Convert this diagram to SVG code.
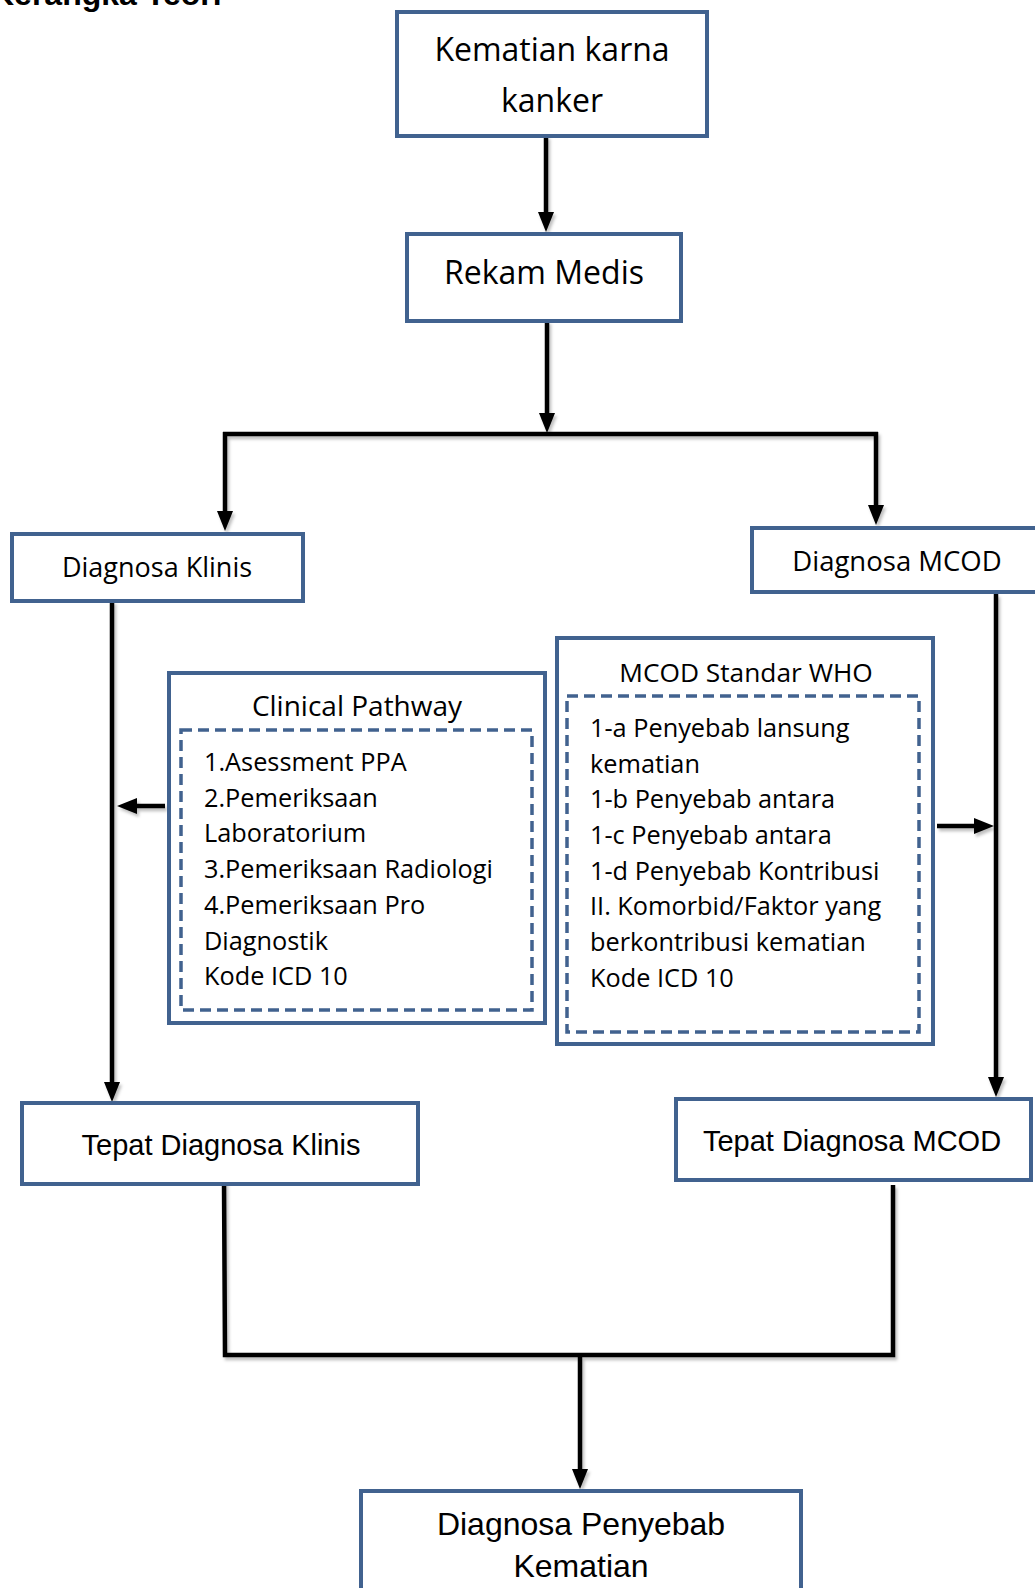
<svg xmlns="http://www.w3.org/2000/svg" width="1035" height="1588" viewBox="0 0 1035 1588">
<defs>
<style>
.box{fill:#fff;stroke:#41628F;stroke-width:4}
.dash{fill:none;stroke:#41628F;stroke-width:3.5;stroke-dasharray:11 6}
.con{fill:none;stroke:#000;stroke-width:4.5}
.c{font-family:"Open Sans","Noto Sans",sans-serif;fill:#000}
.a{font-family:"Liberation Sans",Arial,sans-serif;fill:#000}
.mid{text-anchor:middle}
</style>
<marker id="ah" viewBox="0 0 20 16" refX="6" refY="8" markerWidth="20" markerHeight="16" markerUnits="userSpaceOnUse" orient="auto">
<path d="M0,0 L20,8 L0,16 z" fill="#000"/>
</marker>
<filter id="sh" x="-10%" y="-10%" width="120%" height="120%">
<feDropShadow dx="2" dy="3" stdDeviation="1.5" flood-color="#000" flood-opacity="0.25"/>
</filter>
</defs>
<rect width="1035" height="1588" fill="#fff"/>
<text class="a" x="-9" y="5" font-size="32" font-weight="bold">Kerangka Teori</text>

<g id="connectors" filter="url(#sh)">
<path class="con" d="M546,136 V218" marker-end="url(#ah)"/>
<path class="con" d="M547,321 V419" marker-end="url(#ah)"/>
<path class="con" d="M223,434 H878"/>
<path class="con" d="M225,432 V517" marker-end="url(#ah)"/>
<path class="con" d="M876,432 V511" marker-end="url(#ah)"/>
<path class="con" d="M112,601 V1088" marker-end="url(#ah)"/>
<path class="con" d="M996,594 V1083" marker-end="url(#ah)"/>
<path class="con" d="M165,806 H131" marker-end="url(#ah)"/>
<path class="con" d="M937,826 H980" marker-end="url(#ah)"/>
<path class="con" d="M224,1180 L225,1355 H893 V1185" stroke-linejoin="miter"/>
<path class="con" d="M580,1355 V1475" marker-end="url(#ah)"/>
</g>

<g id="n-kematian">
<rect class="box" x="397" y="12" width="310" height="124"/>
<text class="c mid" x="552" y="61" font-size="32">Kematian karna</text>
<text class="c mid" x="552" y="112" font-size="32">kanker</text>
</g>

<g id="n-rekam">
<rect class="box" x="407" y="234" width="274" height="87"/>
<text class="c mid" x="544" y="284" font-size="32">Rekam Medis</text>
</g>

<g id="n-diagklinis">
<rect class="box" x="12" y="534" width="291" height="67"/>
<text class="c mid" x="157" y="577" font-size="27">Diagnosa Klinis</text>
</g>

<g id="n-diagmcod">
<rect class="box" x="752" y="528" width="300" height="64"/>
<text class="c mid" x="897" y="571" font-size="27.5">Diagnosa MCOD</text>
</g>

<g id="n-clinical">
<rect class="box" x="169" y="673" width="376" height="350"/>
<rect class="dash" x="181" y="730" width="351" height="280"/>
<text class="c mid" x="357" y="716" font-size="28">Clinical Pathway</text>
<text class="c" font-size="25.3">
<tspan x="204" y="771">1.Asessment PPA</tspan>
<tspan x="204" y="807">2.Pemeriksaan</tspan>
<tspan x="204" y="842">Laboratorium</tspan>
<tspan x="204" y="878">3.Pemeriksaan Radiologi</tspan>
<tspan x="204" y="914">4.Pemeriksaan Pro</tspan>
<tspan x="204" y="950">Diagnostik</tspan>
<tspan x="204" y="985">Kode ICD 10</tspan>
</text>
</g>

<g id="n-mcodwho">
<rect class="box" x="557" y="638" width="376" height="406"/>
<rect class="dash" x="567" y="696" width="352" height="336"/>
<text class="c mid" x="746" y="682" font-size="26.3">MCOD Standar WHO</text>
<text class="c" font-size="25.3">
<tspan x="590" y="737">1-a Penyebab lansung</tspan>
<tspan x="590" y="773">kematian</tspan>
<tspan x="590" y="808">1-b Penyebab antara</tspan>
<tspan x="590" y="844">1-c Penyebab antara</tspan>
<tspan x="590" y="880">1-d Penyebab Kontribusi</tspan>
<tspan x="590" y="915">II. Komorbid/Faktor yang</tspan>
<tspan x="590" y="951">berkontribusi kematian</tspan>
<tspan x="590" y="987">Kode ICD 10</tspan>
</text>
</g>

<g id="n-tepatklinis">
<rect class="box" x="22" y="1103" width="396" height="81"/>
<text class="a mid" x="221" y="1155" font-size="29">Tepat Diagnosa Klinis</text>
</g>

<g id="n-tepatmcod">
<rect class="box" x="676" y="1099" width="355" height="81"/>
<text class="a mid" x="852" y="1151" font-size="29">Tepat Diagnosa MCOD</text>
</g>

<g id="n-penyebab">
<rect class="box" x="361" y="1491" width="440" height="110"/>
<text class="a mid" x="581" y="1535" font-size="32">Diagnosa Penyebab</text>
<text class="a mid" x="581" y="1577" font-size="32">Kematian</text>
</g>
</svg>
